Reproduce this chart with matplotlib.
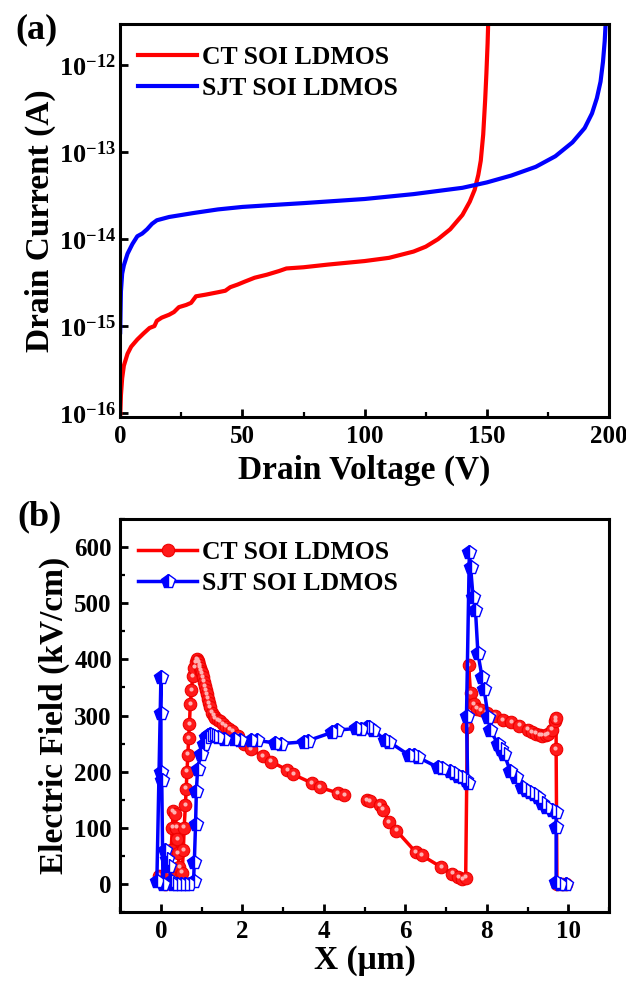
import numpy as np
import matplotlib
matplotlib.use("Agg")
import matplotlib.pyplot as plt
from matplotlib.ticker import MultipleLocator, NullLocator, FixedLocator
import matplotlib.transforms as mtransforms

plt.rcParams["font.family"] = ["Liberation Serif", "DejaVu Serif"]
plt.rcParams["font.weight"] = "bold"
plt.rcParams["axes.labelweight"] = "bold"
plt.rcParams["mathtext.fontset"] = "custom"
plt.rcParams["mathtext.rm"] = "Liberation Serif:bold"
plt.rcParams["mathtext.it"] = "Liberation Serif:bold:italic"
plt.rcParams["mathtext.bf"] = "Liberation Serif:bold"

# (a) leakage current vs drain voltage
ct_v = [0, 0.3, 0.8, 1.5, 3, 4.5, 7, 9.5, 12, 14, 15, 17, 20, 22, 24, 27, 29, 31, 35,
        40, 43, 45, 48, 51, 55, 60, 65, 68, 75, 85, 100, 110, 120, 125, 130, 135,
        140, 143, 145, 146.5, 147.5, 148.5, 149.3, 149.8, 150.3, 150.6]
ct_i = [9e-17, 1.6e-16, 2.5e-16, 3.5e-16, 4.8e-16, 5.8e-16, 7e-16, 8.2e-16, 9.5e-16,
        1.0e-15, 1.15e-15, 1.25e-15, 1.35e-15, 1.45e-15, 1.65e-15, 1.75e-15, 1.85e-15,
        2.2e-15, 2.3e-15, 2.45e-15, 2.55e-15, 2.8e-15, 3.0e-15, 3.25e-15, 3.6e-15,
        3.9e-15, 4.3e-15, 4.6e-15, 4.75e-15, 5.1e-15, 5.6e-15, 6.1e-15, 7.2e-15,
        8.2e-15, 1.0e-14, 1.3e-14, 1.9e-14, 2.7e-14, 3.7e-14, 5.5e-14, 8e-14,
        1.6e-13, 4e-13, 8e-13, 1.8e-12, 3.5e-12]

sjt_v = [0, 0.3, 0.8, 1.5, 3, 5, 7, 9, 11, 13, 15, 20, 30, 40, 50, 60, 75, 100, 120,
         140, 150, 160, 170, 178, 185, 190, 193, 195, 196.5, 197.5, 198.2, 198.7]
sjt_i = [8.5e-16, 2.5e-15, 4e-15, 5e-15, 6.8e-15, 8.8e-15, 1.08e-14, 1.16e-14, 1.3e-14,
         1.5e-14, 1.65e-14, 1.8e-14, 2.0e-14, 2.2e-14, 2.35e-14, 2.45e-14, 2.6e-14,
         2.9e-14, 3.3e-14, 3.9e-14, 4.5e-14, 5.4e-14, 6.8e-14, 9e-14, 1.3e-13, 1.9e-13,
         2.8e-13, 4.2e-13, 6.5e-13, 1.1e-12, 1.9e-12, 3.5e-12]

# (b) surface electric field along X
ct_x = [-0.05, 0.0, 0.1, 0.2, 0.25, 0.28, 0.3, 0.35, 0.38, 0.4, 0.42, 0.45, 0.48, 0.52,
        0.55, 0.57, 0.6, 0.62, 0.64, 0.66, 0.68, 0.7, 0.72, 0.75, 0.78, 0.82, 0.86, 0.88,
        0.9, 0.92, 0.94, 0.96, 0.98, 1.0, 1.03, 1.05, 1.08, 1.1, 1.13, 1.15, 1.18, 1.2,
        1.25, 1.3, 1.33, 1.4, 1.45, 1.52, 1.6, 1.68, 1.75, 1.9, 2.05, 2.2, 2.5, 2.7,
        3.1, 3.25, 3.7, 3.9, 4.35, 4.5, 4.8, 5.06, 5.12, 5.38, 5.45, 5.6, 5.78, 6.25,
        6.4, 6.88, 7.15, 7.3, 7.4, 7.48, 7.52, 7.55, 7.6, 7.68, 7.75, 7.85, 8.0, 8.2,
        8.4, 8.6, 8.8, 9.0, 9.1, 9.2, 9.3, 9.35, 9.45, 9.5, 9.6, 9.68, 9.7, 9.7, 9.72,
        9.85, 9.95]
ct_e = [15, 5, 0, 20, 60, 100, 130, 125, 100, 80, 55, 30, 5, 20,
        60, 100, 140, 170, 200, 230, 260, 285, 320, 345, 370, 385, 395, 400,
        398, 395, 390, 385, 380, 375, 368, 360, 352, 345, 338, 330, 322, 315,
        305, 300, 295, 292, 290, 285, 280, 276, 272, 263, 250, 240, 228, 218,
        203, 195, 180, 172, 162, 158, np.nan, 149, 147, 140, 132, 110, 95, 57,
        51, 30, 18, 12, 9, 11, 280, 390, 340, 320, 312, 310, 305, 300,
        292, 288, 282, 275, 270, 268, 265, 264, 265, 267, 275, 290, 295, 240, 0,
        0, 0]

sjt_x = [-0.1, 0.0, 0.0, 0.0, 0.02, 0.05, 0.1, 0.15, 0.2, 0.25, 0.3, 0.4, 0.5, 0.6,
         0.7, 0.8, 0.82, 0.85, 0.87, 0.9, 0.98, 1.05, 1.1, 1.15, 1.2, 1.25, 1.3, 1.4,
         1.56, 1.8, 1.95, 2.2, 2.35, 2.8, 2.94, 3.5, 3.6, 4.2, 4.32, 4.8, 4.9, 5.05,
         5.11, 5.2, 5.51, 5.6, 6.1, 6.2, 6.3, 6.79, 6.9, 7.09, 7.2, 7.29, 7.4, 7.48,
         7.53, 7.5, 7.57, 7.6, 7.66, 7.72, 7.78, 7.88, 7.93, 8.03, 8.08, 8.27, 8.35,
         8.42, 8.57, 8.71, 8.86, 8.95, 9.06, 9.15, 9.26, 9.35, 9.46, 9.6, 9.7, 9.7,
         9.7, 9.8, 9.95]
sjt_e = [5, 369, 305, 200, 185, 0, 60, 44, 32, 5, 0, 0, 0, 0,
         0, 5, 40, 107, 166, 205, 232, 250, 262, 266, 268, 265, 263, 262,
         259, 258, 257, 256, 256, 251, 250, 253, 255, 270, 274, 277, 276, 279,
         279, 275, 256, 253, 229, 230, 226, 208, 206, 202, 198, 193, 190, 185,
         179, 300, 592, 565, 512, 488, 411, 369, 348, 298, 274, 250, 240,
         232, 202, 190, 173, 168, 164, 160, 155, 145, 137, 132, 128, 101,
         3, 0, 0]

fig = plt.figure(figsize=(6.26, 9.81), dpi=100)
ax1 = fig.add_axes([0.192, 0.575, 0.781, 0.4006])
ax2 = fig.add_axes([0.192, 0.0703, 0.781, 0.4006])

for ax in (ax1, ax2):
    for sp in ax.spines.values():
        sp.set_linewidth(2.2)
    ax.tick_params(direction="in", width=2, length=6, labelsize=18, pad=6,
                   top=False, right=False)
    ax.tick_params(which="minor", direction="in", width=1.6, length=3.5)

ax1.plot(ct_v, ct_i, color="#ff0000", lw=3, label="CT SOI LDMOS")
ax1.plot(sjt_v, sjt_i, color="#0000ff", lw=3, label="SJT SOI LDMOS")
ax1.set_yscale("log")
ax1.set_xlim(0, 200)
ax1.set_ylim(9e-17, 3e-12)
ax1.yaxis.set_major_locator(FixedLocator([1e-16, 1e-15, 1e-14, 1e-13, 1e-12]))
ax1.yaxis.set_minor_locator(NullLocator())
ax1.tick_params(axis="y", labelsize=19, pad=3)
ax1.xaxis.set_major_locator(MultipleLocator(50))
ax1.xaxis.set_minor_locator(MultipleLocator(25))
ax1.set_xlabel("Drain Voltage (V)", fontsize=24, labelpad=5)
ax1.set_ylabel("Drain Current (A)", fontsize=24, labelpad=2)
ax1.legend(loc="upper left", bbox_to_anchor=(0.0, 0.99), frameon=False, fontsize=18.5,
           handlelength=2.3, handletextpad=0.2, labelspacing=0.3, borderaxespad=0.3)
fig.text(0.025, 0.986, "(a)", fontsize=26, fontweight="bold", va="top")

ax2.plot(ct_x, ct_e, color="#ff0000", lw=2.5, marker="o", ms=9,
         mfc="#ff1a1a", mec="#ee0000", mew=0.8, label="CT SOI LDMOS")
shift = mtransforms.offset_copy(ax2.transData, fig=fig, x=-0.5, y=1.0, units="points")
ax2.plot(ct_x, ct_e, ls="none", marker="o", ms=3, mfc="#ffb0b0", mec="none",
         transform=shift)
ax2.plot(sjt_x, sjt_e, color="#0000ff", lw=2.5, marker="p", ms=10,
         fillstyle="left", mfc="#0000ff", mfcalt="white", mec="#0000ff", mew=1.0,
         label="SJT SOI LDMOS")
ax2.set_xlim(-1, 11)
ax2.set_ylim(-50, 650)
ax2.xaxis.set_major_locator(MultipleLocator(2))
ax2.xaxis.set_minor_locator(MultipleLocator(1))
ax2.yaxis.set_major_locator(MultipleLocator(100))
ax2.yaxis.set_minor_locator(MultipleLocator(50))
ax2.set_xlabel("X (μm)", fontsize=24, labelpad=1)
ax2.set_ylabel("Electric Field (kV/cm)", fontsize=24, labelpad=3)
ax2.legend(loc="upper left", bbox_to_anchor=(0.0, 0.99), frameon=False, fontsize=18.5,
           handlelength=2.3, handletextpad=0.2, labelspacing=0.3, borderaxespad=0.3)
fig.text(0.028, 0.490, "(b)", fontsize=26, fontweight="bold", va="top")

fig.savefig("out.png", dpi=100)
